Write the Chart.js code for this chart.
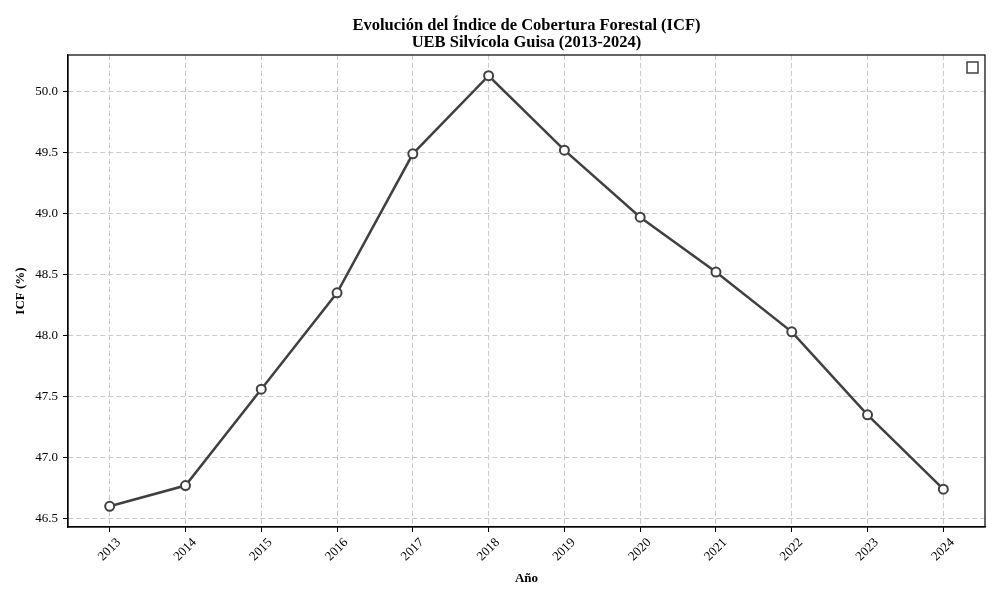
<!DOCTYPE html>
<html>
<head>
<meta charset="utf-8">
<script src="https://cdn.jsdelivr.net/npm/chart.js@4/dist/chart.umd.min.js"></script>
<style>
body{margin:0;background:#fff}
</style>
</head>
<body>
<canvas id="chart" width="1000" height="600"></canvas>
<script>

let years=[2013,2014,2015,2016,2017,2018,2019,2020,2021,2022,2023,2024]
let icf=[46.60,46.77,47.56,48.35,49.49,50.13,49.52,48.97,48.52,48.03,47.35,46.74]

let titleLines=["Evolución del Índice de Cobertura Forestal (ICF)","UEB Silvícola Guisa (2013-2024)"]

let serif="'Liberation Serif','Times New Roman',serif"

// title centred over the plot (like matplotlib), frame round the plot, empty legend box
let framePlugin={
id:"frame",
afterDraw(c){
let a=c.chartArea
let ctx=c.ctx
ctx.save()
ctx.fillStyle="#000"
ctx.font="bold 16.5px "+serif
ctx.textAlign="center"
ctx.textBaseline="middle"
let cx=(a.left+a.right)/2
titleLines.forEach((t,i)=>ctx.fillText(t,cx,a.top-29+i*17))
ctx.strokeStyle="#000"
ctx.lineWidth=1.2
ctx.strokeRect(a.left,a.top,a.right-a.left,a.bottom-a.top)
ctx.strokeStyle="#404040"
ctx.lineWidth=1.5
ctx.fillStyle="#fff"
ctx.fillRect(a.right-18,a.top+7,11,11)
ctx.strokeRect(a.right-18,a.top+7,11,11)
ctx.restore()
}
}

let points=years.map((y,i)=>({x:y,y:icf[i]}))

let chart=new Chart(document.getElementById("chart"),{
type:"line",
data:{
datasets:[{
data:points,
borderColor:"#404040",
borderWidth:2.5,
pointRadius:4.5,
pointBorderWidth:2,
pointBackgroundColor:"#fff",
pointBorderColor:"#404040",
tension:0
}]
},
options:{
responsive:false,
animation:false,
devicePixelRatio:1,
layout:{padding:{left:0,right:15,top:55,bottom:0}},
plugins:{
legend:{display:false},
tooltip:{enabled:false},
title:{display:false}
},
scales:{
x:{
type:"linear",
min:2012.45,
max:2024.55,
afterFit(s){s.height=73},
border:{display:true,color:"#000",width:1.2,dash:[5,3]},
grid:{color:"#cacaca",tickColor:"#000",tickLength:5,tickBorderDash:[],tickWidth:1},
ticks:{
stepSize:1,
autoSkip:false,
includeBounds:false,
minRotation:45,
maxRotation:45,
labelOffset:9,
padding:3,
color:"#000",
font:{family:serif,size:13},
callback:v=>String(v)
},
title:{display:true,text:"Año",color:"#000",font:{family:serif,size:13,weight:"bold"},padding:{top:0,bottom:14}}
},
y:{
min:46.43,
max:50.30,
afterFit(s){s.width=68},
border:{display:true,color:"#000",width:1.2,dash:[5,3]},
grid:{color:"#cacaca",tickColor:"#000",tickLength:5,tickBorderDash:[],tickWidth:1},
ticks:{
stepSize:0.5,
includeBounds:false,
padding:5,
color:"#000",
font:{family:serif,size:13},
callback:v=>v.toFixed(1)
},
title:{display:true,text:"ICF (%)",color:"#000",font:{family:serif,size:13,weight:"bold"},padding:{top:13,bottom:4}}
}
}
},
plugins:[framePlugin]
})

</script>
</body>
</html>
